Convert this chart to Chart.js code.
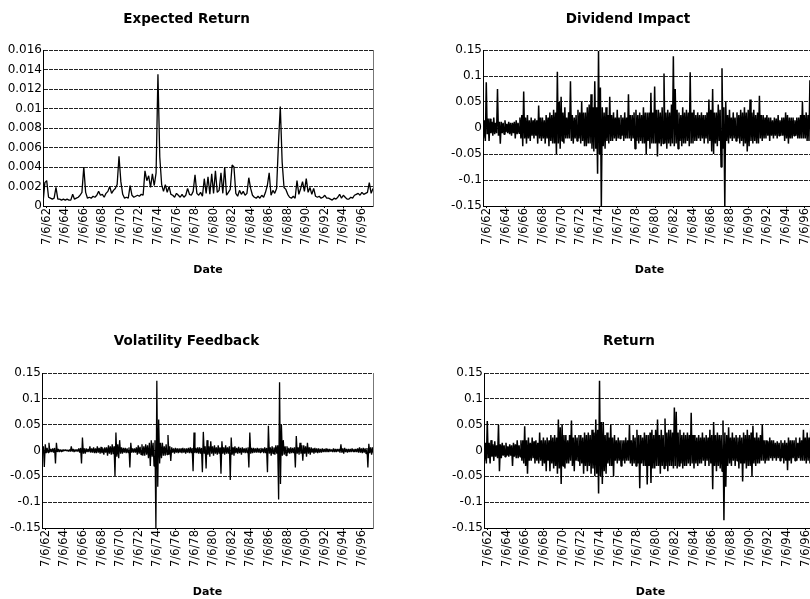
<!DOCTYPE html>
<html>
<head>
<meta charset="utf-8">
<script src="https://cdn.jsdelivr.net/npm/chart.js@4.4.1/dist/chart.umd.min.js"></script>
<style>
  html, body { margin: 0; padding: 0; width: 810px; height: 599px; overflow: hidden; background: #fff; }
  canvas { position: absolute; }
</style>
</head>
<body>
<canvas id="chart_er" width="416" height="300" style="left:0;top:0"></canvas>
<canvas id="chart_di" width="420" height="300" style="left:440px;top:0"></canvas>
<canvas id="chart_vf" width="415" height="300" style="left:0;top:300px"></canvas>
<canvas id="chart_ret" width="420" height="300" style="left:441px;top:300px"></canvas>
<script>
// sample slots, decimal years, one every 0.2 year from 1962.1 to 1997.7
const dates = [];
for (let i = 0; i < 179; i++) dates.push(+(1962.1 + 0.2 * i).toFixed(1));

const tickYears = [1962.51,1964.51,1966.51,1968.51,1970.51,1972.51,1974.51,1976.51,1978.51,
  1980.51,1982.51,1984.51,1986.51,1988.51,1990.51,1992.51,1994.51,1996.51];
const tickLabels = ['7/6/62','7/6/64','7/6/66','7/6/68','7/6/70','7/6/72','7/6/74','7/6/76','7/6/78',
  '7/6/80','7/6/82','7/6/84','7/6/86','7/6/88','7/6/90','7/6/92','7/6/94','7/6/96'];

const erTickValues = [0,0.002,0.004,0.006,0.008,0.01,0.012,0.014,0.016];
const erTickLabels = ['0','0.002','0.004','0.006','0.008','0.01','0.012','0.014','0.016'];
const retTickValues = [-0.15,-0.1,-0.05,0,0.05,0.1,0.15];
const retTickLabels = ['-0.15','-0.1','-0.05','0','0.05','0.1','0.15'];

// one value per slot: .1 .3 .5 .7 .9 of each year
const expectedReturn = [
  0.0003,0.0024,0.0026,0.0009,0.0008, // 62
  0.0007,0.0008,0.0019,0.0007,0.0007,
  0.0006,0.0007,0.0006,0.0007,0.0006,
  0.0006,0.0012,0.0007,0.0008,0.0009,
  0.0011,0.0014,0.004,0.0014,0.0008,  // 66
  0.0009,0.0008,0.001,0.0009,0.0011,
  0.0015,0.0011,0.0012,0.0009,0.0013,
  0.0015,0.002,0.0013,0.0016,0.0018,
  0.0022,0.0051,0.0025,0.0012,0.0008, // 70
  0.0009,0.0008,0.0021,0.0011,0.0009,
  0.001,0.0011,0.001,0.0012,0.0011,
  0.0036,0.0026,0.0031,0.0019,0.0033,
  0.0021,0.0034,0.0135,0.005,0.0022,  // 74
  0.0015,0.0022,0.0014,0.002,0.0012,
  0.0011,0.0009,0.0013,0.0011,0.0009,
  0.0012,0.0009,0.0011,0.0018,0.0012,
  0.0011,0.0015,0.0032,0.0013,0.0011, // 78
  0.0014,0.001,0.0028,0.0013,0.003,
  0.0012,0.0033,0.0013,0.0036,0.0014,
  0.0016,0.0034,0.0013,0.004,0.0011,
  0.0014,0.0017,0.0042,0.004,0.0013,  // 82
  0.001,0.0016,0.0012,0.0015,0.0011,
  0.0013,0.0029,0.0018,0.0011,0.0009,
  0.0008,0.001,0.0008,0.0011,0.0009,
  0.0014,0.0021,0.0034,0.0011,0.0016, // 86
  0.0013,0.0018,0.0064,0.0102,0.0045,
  0.0019,0.0017,0.0012,0.0009,0.0008,
  0.001,0.0008,0.0026,0.0012,0.0018,
  0.0025,0.0015,0.0028,0.0014,0.0019, // 90
  0.0012,0.0018,0.001,0.0009,0.001,
  0.0008,0.0009,0.0011,0.0008,0.0008,
  0.0007,0.0006,0.0008,0.0007,0.0009,
  0.0012,0.0008,0.0011,0.0009,0.0007, // 94
  0.0007,0.0009,0.0008,0.0011,0.0012,
  0.0013,0.0011,0.0014,0.0012,0.0013,
  0.0014,0.0024,0.0013,0.0018          // 97
];

// noisy series: highest and lowest reading inside each slot
const dividendHigh = [
  0.01,0.015,0.088,0.018,0.018,  0.012,0.02,0.01,0.075,0.012,  0.012,0.01,0.015,0.008,0.012,  0.01,0.01,0.012,0.015,0.01,
  0.02,0.025,0.07,0.02,0.025,    0.015,0.02,0.015,0.018,0.015, 0.043,0.02,0.02,0.015,0.025,  0.02,0.03,0.025,0.035,0.03,
  0.108,0.05,0.06,0.03,0.04,     0.02,0.03,0.09,0.025,0.02,    0.025,0.035,0.03,0.05,0.03,   0.03,0.04,0.045,0.065,0.04,
  0.09,0.04,0.148,0.078,0.04,    0.03,0.04,0.025,0.06,0.025,   0.03,0.02,0.035,0.02,0.025,   0.02,0.03,0.02,0.065,0.025,
  0.025,0.03,0.035,0.025,0.03,   0.025,0.04,0.03,0.03,0.03,    0.068,0.03,0.08,0.035,0.035,  0.03,0.04,0.105,0.03,0.035,
  0.03,0.045,0.138,0.075,0.035,  0.03,0.025,0.04,0.03,0.035,   0.03,0.107,0.03,0.035,0.025,  0.03,0.025,0.03,0.025,0.025,
  0.03,0.055,0.035,0.075,0.03,   0.03,0.045,0.035,0.115,0.04,  0.05,0.025,0.035,0.02,0.03,   0.02,0.03,0.025,0.035,0.03,
  0.04,0.03,0.035,0.055,0.03,    0.035,0.025,0.03,0.062,0.025, 0.025,0.02,0.025,0.02,0.02,   0.015,0.02,0.018,0.025,0.015,
  0.02,0.02,0.03,0.025,0.02,     0.02,0.02,0.015,0.02,0.02,    0.025,0.05,0.025,0.03,0.025,  0.092,0.025,0.03,0.025
];
const dividendLow = [
  -0.02,-0.025,-0.012,-0.025,-0.01,  -0.015,-0.012,-0.01,-0.015,-0.03,  -0.01,-0.012,-0.008,-0.01,-0.012,  -0.015,-0.01,-0.02,-0.012,-0.01,
  -0.02,-0.035,-0.02,-0.03,-0.02,    -0.025,-0.015,-0.02,-0.015,-0.03,  -0.02,-0.025,-0.02,-0.03,-0.02,    -0.035,-0.025,-0.03,-0.03,-0.05,
  -0.03,-0.04,-0.025,-0.03,-0.02,    -0.02,-0.02,-0.025,-0.03,-0.02,    -0.025,-0.02,-0.03,-0.025,-0.035,  -0.035,-0.03,-0.03,-0.04,-0.045,
  -0.04,-0.088,-0.05,-0.15,-0.035,   -0.04,-0.025,-0.03,-0.025,-0.025,  -0.02,-0.025,-0.02,-0.02,-0.015,    -0.025,-0.02,-0.02,-0.02,-0.025,
  -0.02,-0.04,-0.025,-0.03,-0.025,   -0.03,-0.03,-0.05,-0.025,-0.04,    -0.03,-0.03,-0.03,-0.055,-0.03,    -0.035,-0.03,-0.03,-0.04,-0.03,
  -0.035,-0.03,-0.035,-0.03,-0.04,   -0.025,-0.035,-0.03,-0.03,-0.025,  -0.035,-0.03,-0.03,-0.025,-0.025,  -0.02,-0.025,-0.02,-0.03,-0.02,
  -0.03,-0.025,-0.045,-0.05,-0.03,   -0.035,-0.025,-0.075,-0.04,-0.15,  -0.025,-0.03,-0.02,-0.025,-0.02,   -0.025,-0.02,-0.03,-0.025,-0.035,
  -0.03,-0.045,-0.035,-0.025,-0.03,  -0.025,-0.03,-0.03,-0.02,-0.025,   -0.02,-0.02,-0.015,-0.025,-0.015,  -0.02,-0.015,-0.02,-0.015,-0.015,
  -0.015,-0.025,-0.02,-0.03,-0.02,   -0.02,-0.015,-0.015,-0.02,-0.02,   -0.02,-0.02,-0.02,-0.025,-0.025,   -0.02,-0.025,-0.02,-0.02
];

const feedbackHigh = [
  0.004,0.008,0.012,0.005,0.015,  0.003,0.004,0.005,0.015,0.003,  0.002,0.002,0.002,0.002,0.001,  0.002,0.008,0.003,0.002,0.002,
  0.004,0.005,0.025,0.004,0.004,  0.003,0.008,0.004,0.006,0.004,  0.008,0.005,0.007,0.004,0.006,  0.006,0.01,0.008,0.012,0.008,
  0.035,0.012,0.02,0.006,0.005,   0.005,0.004,0.006,0.015,0.004,  0.004,0.006,0.01,0.007,0.012,   0.008,0.012,0.01,0.015,0.02,
  0.015,0.02,0.135,0.06,0.015,    0.015,0.008,0.012,0.03,0.008,   0.006,0.004,0.005,0.004,0.004,  0.004,0.005,0.004,0.004,0.005,
  0.006,0.005,0.035,0.005,0.006,  0.006,0.005,0.036,0.008,0.02,   0.008,0.018,0.008,0.01,0.006,   0.01,0.006,0.018,0.006,0.01,
  0.006,0.008,0.025,0.006,0.008,  0.005,0.007,0.005,0.006,0.004,  0.005,0.006,0.035,0.005,0.005,  0.004,0.005,0.004,0.005,0.004,
  0.006,0.005,0.048,0.006,0.008,  0.006,0.01,0.01,0.132,0.05,     0.02,0.008,0.008,0.005,0.006,   0.005,0.006,0.028,0.006,0.015,
  0.01,0.01,0.008,0.015,0.006,    0.006,0.004,0.005,0.004,0.004,  0.003,0.004,0.003,0.004,0.003,  0.003,0.002,0.004,0.003,0.003,
  0.003,0.012,0.004,0.005,0.003,  0.003,0.003,0.004,0.003,0.003,  0.004,0.006,0.004,0.005,0.004,  0.005,0.013,0.006,0.006
];
const feedbackLow = [
  -0.005,-0.032,-0.005,-0.004,-0.003,  -0.003,-0.004,-0.025,-0.003,-0.003,  -0.002,-0.002,-0.001,-0.001,-0.002,  -0.002,-0.002,-0.003,-0.002,-0.002,
  -0.004,-0.025,-0.006,-0.006,-0.003,  -0.003,-0.004,-0.004,-0.005,-0.005,  -0.004,-0.006,-0.005,-0.008,-0.004,  -0.01,-0.006,-0.008,-0.007,-0.05,
  -0.012,-0.015,-0.006,-0.006,-0.004,  -0.005,-0.004,-0.033,-0.004,-0.004,  -0.004,-0.008,-0.006,-0.008,-0.01,   -0.01,-0.008,-0.015,-0.03,-0.012,
  -0.03,-0.15,-0.07,-0.025,-0.015,     -0.01,-0.01,-0.008,-0.008,-0.02,     -0.004,-0.006,-0.004,-0.005,-0.004,  -0.005,-0.004,-0.006,-0.004,-0.005,
  -0.005,-0.04,-0.005,-0.005,-0.006,   -0.006,-0.042,-0.006,-0.035,-0.008,  -0.012,-0.006,-0.01,-0.006,-0.008,   -0.006,-0.045,-0.006,-0.008,-0.006,
  -0.006,-0.057,-0.008,-0.01,-0.005,   -0.006,-0.005,-0.008,-0.004,-0.005,  -0.004,-0.033,-0.006,-0.005,-0.004,  -0.004,-0.004,-0.004,-0.003,-0.005,
  -0.005,-0.042,-0.006,-0.01,-0.006,   -0.008,-0.006,-0.095,-0.065,-0.01,   -0.008,-0.01,-0.005,-0.006,-0.005,   -0.005,-0.033,-0.006,-0.008,-0.006,
  -0.02,-0.006,-0.012,-0.006,-0.008,   -0.004,-0.006,-0.004,-0.005,-0.004,  -0.004,-0.003,-0.003,-0.003,-0.003,  -0.002,-0.003,-0.003,-0.003,-0.002,
  -0.004,-0.004,-0.006,-0.003,-0.004,  -0.003,-0.003,-0.002,-0.003,-0.003,  -0.004,-0.004,-0.005,-0.004,-0.006,  -0.033,-0.005,-0.008,-0.005
];

const returnHigh = [
  0.01,0.015,0.057,0.015,0.02,   0.012,0.018,0.01,0.05,0.012,   0.015,0.01,0.015,0.008,0.012,  0.01,0.015,0.012,0.02,0.01,
  0.02,0.02,0.047,0.02,0.025,    0.015,0.025,0.018,0.02,0.015,  0.035,0.02,0.025,0.02,0.025,   0.02,0.03,0.025,0.03,0.025,
  0.06,0.045,0.05,0.03,0.03,     0.02,0.03,0.058,0.025,0.03,    0.025,0.03,0.03,0.025,0.035,   0.03,0.035,0.03,0.04,0.035,
  0.06,0.04,0.135,0.055,0.055,   0.03,0.035,0.025,0.05,0.025,   0.03,0.02,0.025,0.02,0.02,     0.02,0.025,0.02,0.05,0.02,
  0.03,0.025,0.04,0.03,0.03,     0.025,0.035,0.03,0.03,0.035,   0.04,0.03,0.04,0.06,0.03,      0.04,0.03,0.062,0.035,0.04,
  0.04,0.035,0.083,0.075,0.035,  0.04,0.03,0.035,0.03,0.035,    0.03,0.073,0.03,0.03,0.025,    0.03,0.025,0.035,0.025,0.03,
  0.025,0.04,0.03,0.055,0.03,    0.035,0.03,0.03,0.058,0.035,   0.03,0.045,0.025,0.035,0.025,  0.03,0.025,0.03,0.025,0.035,
  0.03,0.04,0.03,0.035,0.048,    0.025,0.035,0.025,0.03,0.05,   0.02,0.02,0.018,0.025,0.02,    0.02,0.015,0.018,0.015,0.02,
  0.015,0.02,0.015,0.025,0.02,   0.02,0.02,0.025,0.015,0.025,   0.02,0.04,0.025,0.035,0.025,   0.06,0.03,0.035,0.025
];
const returnLow = [
  -0.02,-0.025,-0.015,-0.025,-0.012,  -0.02,-0.012,-0.015,-0.04,-0.015,  -0.01,-0.012,-0.01,-0.012,-0.01,    -0.03,-0.012,-0.015,-0.015,-0.012,
  -0.02,-0.025,-0.03,-0.045,-0.02,    -0.02,-0.015,-0.025,-0.02,-0.025,   -0.02,-0.03,-0.025,-0.04,-0.02,    -0.04,-0.025,-0.035,-0.03,-0.045,
  -0.035,-0.065,-0.03,-0.035,-0.025,  -0.025,-0.02,-0.03,-0.04,-0.02,     -0.02,-0.03,-0.025,-0.045,-0.03,   -0.04,-0.03,-0.045,-0.035,-0.05,
  -0.045,-0.083,-0.05,-0.065,-0.04,   -0.045,-0.025,-0.03,-0.03,-0.05,    -0.02,-0.025,-0.02,-0.03,-0.02,    -0.025,-0.02,-0.02,-0.025,-0.03,
  -0.025,-0.03,-0.025,-0.073,-0.025,  -0.03,-0.03,-0.066,-0.03,-0.063,    -0.035,-0.035,-0.03,-0.03,-0.045,  -0.03,-0.035,-0.03,-0.04,-0.03,
  -0.03,-0.035,-0.03,-0.035,-0.03,    -0.025,-0.035,-0.03,-0.03,-0.025,   -0.03,-0.025,-0.035,-0.025,-0.03,  -0.025,-0.025,-0.02,-0.03,-0.02,
  -0.03,-0.025,-0.075,-0.03,-0.04,    -0.03,-0.035,-0.04,-0.135,-0.07,    -0.03,-0.025,-0.03,-0.02,-0.03,    -0.02,-0.035,-0.025,-0.06,-0.025,
  -0.035,-0.03,-0.03,-0.05,-0.025,    -0.03,-0.025,-0.025,-0.02,-0.02,    -0.025,-0.02,-0.02,-0.015,-0.02,   -0.015,-0.02,-0.015,-0.02,-0.015,
  -0.025,-0.02,-0.038,-0.02,-0.025,   -0.015,-0.02,-0.02,-0.015,-0.02,    -0.02,-0.02,-0.025,-0.02,-0.025,   -0.02,-0.03,-0.02,-0.02
];

const FONT = 'DejaVu Sans';

// one point per slot, or high then low inside each slot for the noisy series
function buildPoints(p){
  if (p.values) return dates.map((d, i) => ({ x: d, y: p.values[i] }));
  const pts = [];
  dates.forEach((d, i) => {
    pts.push({ x: d - 0.05, y: p.high[i] });
    pts.push({ x: d + 0.05, y: p.low[i] });
  });
  return pts;
}

function makeChart(p){
  const ctx = document.getElementById(p.id).getContext('2d');
  return new Chart(ctx, {
    type: 'line',
    data: {
      datasets: [{
        data: buildPoints(p),
        borderColor: '#000',
        borderWidth: p.lineWidth,
        borderJoinStyle: 'bevel',
        pointRadius: 0,
        tension: 0,
        fill: false
      }]
    },
    options: {
      responsive: false,
      animation: false,
      events: [],
      layout: { padding: { left: 0, right: p.padRight, top: 0, bottom: 0 } },
      plugins: {
        legend: { display: false },
        tooltip: { enabled: false },
        title: {
          display: true,
          text: p.title,
          color: '#000',
          font: { family: FONT, size: 13.5, weight: 'bold', lineHeight: 1.2 },
          padding: { top: p.titleTop, bottom: p.titleBottom }
        }
      },
      scales: {
        x: {
          type: 'linear',
          min: 1962.1,
          max: 1997.7,
          afterBuildTicks: s => { s.ticks = tickYears.map(v => ({ value: v })); },
          afterFit: s => { s.height = p.xHeight; },
          ticks: {
            autoSkip: false, minRotation: 90, maxRotation: 90, padding: 0,
            color: '#000', font: { family: FONT, size: 11.5 },
            callback: (v, i) => tickLabels[i]
          },
          grid: { drawOnChartArea: false, drawTicks: true, tickLength: 2, color: '#000' },
          border: { display: true, color: '#000', width: 1 },
          title: {
            display: true, text: 'Date', color: '#000',
            font: { family: FONT, size: 11, weight: 'bold', lineHeight: 1.2 },
            padding: { top: 0, bottom: p.dateBottom }
          }
        },
        y: {
          min: p.yTicks[0],
          max: p.yTicks[p.yTicks.length - 1],
          afterBuildTicks: s => { s.ticks = p.yTicks.map(v => ({ value: v })); },
          afterFit: s => { s.width = p.yWidth; },
          ticks: {
            padding: 1, color: '#000', font: { family: FONT, size: 12 },
            callback: (v, i) => p.yLabels[i]
          },
          grid: { color: '#222', lineWidth: 1, drawTicks: false },
          border: { display: true, color: '#000', width: 1, dash: [4, 1] }
        },
        y2: {
          position: 'right',
          ticks: { display: false },
          grid: { display: false, drawTicks: false },
          border: { display: true, color: '#777', width: 1 }
        }
      }
    }
  });
}

const panels = [
  { id: 'chart_er', title: 'Expected Return', values: expectedReturn, yTicks: erTickValues, yLabels: erTickLabels,
    lineWidth: 1.3, yWidth: 43, padRight: 43, titleTop: 11.1, titleBottom: 22.7, xHeight: 94, dateBottom: 23.4 },
  { id: 'chart_di', title: 'Dividend Impact', high: dividendHigh, low: dividendLow, yTicks: retTickValues, yLabels: retTickLabels,
    lineWidth: 1.5, yWidth: 43, padRight: 44, titleTop: 11.1, titleBottom: 22.7, xHeight: 94, dateBottom: 23.4 },
  { id: 'chart_vf', title: 'Volatility Feedback', high: feedbackHigh, low: feedbackLow, yTicks: retTickValues, yLabels: retTickLabels,
    lineWidth: 1.3, yWidth: 42, padRight: 42, titleTop: 33.6, titleBottom: 23.2, xHeight: 72, dateBottom: 1.4 },
  { id: 'chart_ret', title: 'Return', high: returnHigh, low: returnLow, yTicks: retTickValues, yLabels: retTickLabels,
    lineWidth: 1.5, yWidth: 43, padRight: 44, titleTop: 33.6, titleBottom: 23.2, xHeight: 72, dateBottom: 1.4 }
];

panels.forEach(makeChart);
</script>
</body>
</html>
